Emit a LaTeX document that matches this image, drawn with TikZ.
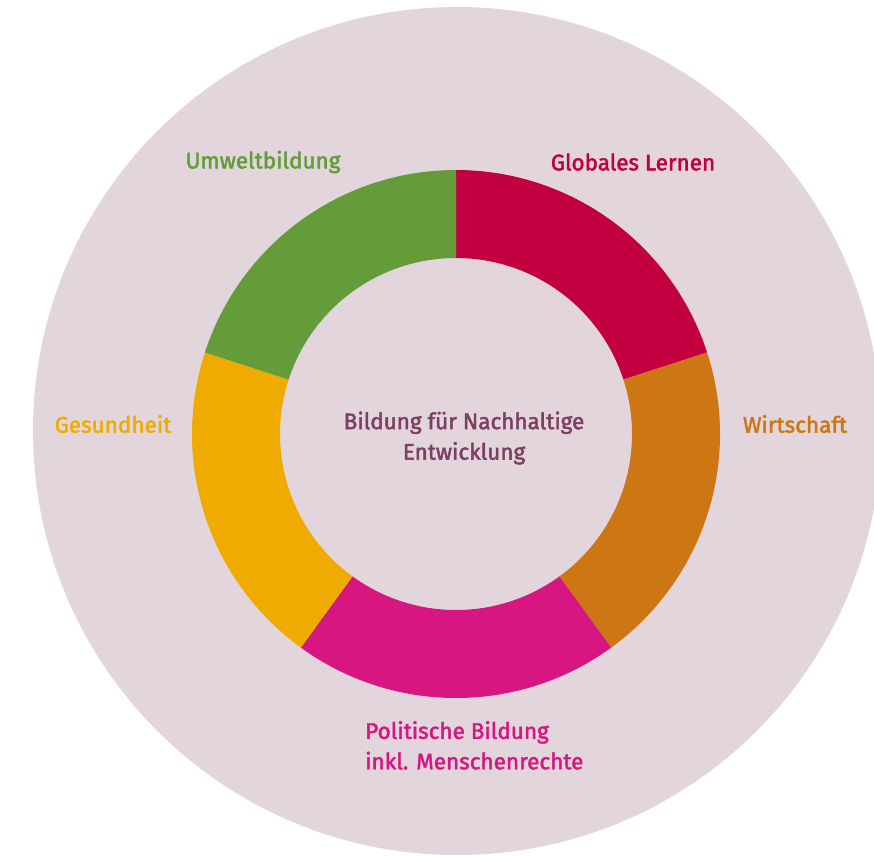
\documentclass[tikz,border=0pt]{standalone}
\usepackage{fontspec}
\setmainfont{Fira Sans}[FakeBold=2]
\usetikzlibrary{calc}
\definecolor{bgc}{HTML}{E2D6DC}
\definecolor{redc}{HTML}{C3003F}
\definecolor{orangec}{HTML}{CD7614}
\definecolor{pinkc}{HTML}{D71682}
\definecolor{yellowc}{HTML}{F0AB00}
\definecolor{greenc}{HTML}{639C38}
\definecolor{purplec}{HTML}{7D3F63}
\tikzset{
  lbl/.style={font=\fontsize{22.5}{30.5}\selectfont, inner sep=0pt},
}
\newcommand{\seg}[3]{%
  \fill[#3] ($(c)+(#1:264)$) arc[start angle=#1,end angle=#2,radius=264]
    -- ($(c)+(#2:176)$) arc[start angle=#2,end angle=#1,radius=176] -- cycle;}
\begin{document}
\begin{tikzpicture}[x=1pt,y=1pt]
\useasboundingbox (0,0) rectangle (874,-855);
\clip (0,0) rectangle (874,-855);
\fill[bgc] (457,-431) circle[radius=424];
\coordinate (c) at (456,-434);
\seg{18}{90}{redc}
\seg{-54}{18}{orangec}
\seg{-126}{-54}{pinkc}
\seg{162}{234}{yellowc}
\seg{90}{162}{greenc}
\node[lbl, text=redc] (glob) at (633,-162) {Globales Lernen};
\node[lbl, text=greenc] (umw) at (263,-162) {Umweltbildung};
\node[lbl, text=orangec] (wirt) at (795,-424) {Wirtschaft};
\node[lbl, text=yellowc] (ges) at (113,-424) {Gesundheit};
\node[lbl, text=pinkc, align=left, anchor=north west] (pol) at (365,-721) {Politische Bildung\\inkl. Menschenrechte};
\node[lbl, text=purplec, align=center] (bne) at (464,-438) {Bildung für Nachhaltige\\Entwicklung};
\end{tikzpicture}
\end{document}
